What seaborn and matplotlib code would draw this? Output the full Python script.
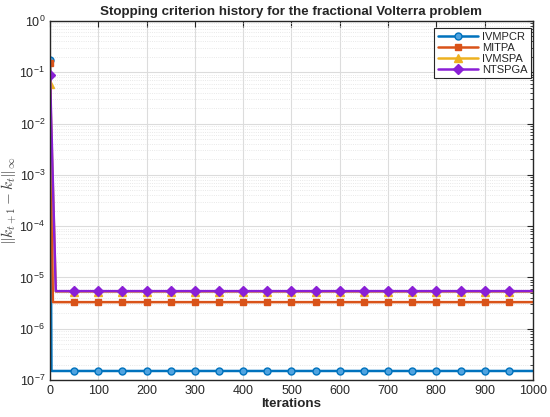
import numpy as np
import pandas as pd
import matplotlib
matplotlib.use("Agg")
import matplotlib.pyplot as plt
import seaborn as sns
from matplotlib.lines import Line2D
from matplotlib.ticker import LogLocator, NullFormatter, MultipleLocator

# ---- data ----
series_names = ["IVMPCR", "MITPA", "IVMSPA", "NTSPGA"]
start_values = [0.17, 0.155, 0.058, 0.09]
drop_iters = [3, 6, 12, 12]
plateau_values = [1.5e-7, 3.3e-6, 5.3e-6, 5.4e-6]
tail_iters = [50, 100, 150, 200, 250, 300, 350, 400, 450, 500,
              550, 600, 650, 700, 750, 800, 850, 900, 950, 1000]

colors = ["#0072BD", "#D95319", "#EDB120", "#8A1FD6"]
face_colors = ["#4FA3E0", "#D95319", "#EDB120", "#8A1FD6"]
markers = ["o", "s", "^", "D"]
msizes = [5, 5, 6, 5]

sns.set_style("white")
plt.rcParams['font.family'] = ['Liberation Sans', 'DejaVu Sans']
plt.rcParams['mathtext.fontset'] = 'cm'

fig = plt.figure(figsize=(5.5, 4.17), dpi=100)
ax = fig.add_axes([0.0909, 0.0887, 0.969 - 0.0909, 0.9496 - 0.0887])

for name, s0, d, p, c, fc, m, ms in zip(series_names, start_values, drop_iters,
                                        plateau_values, colors, face_colors,
                                        markers, msizes):
    xs = [0, d] + tail_iters
    ys = [s0] + [p] * (len(xs) - 1)
    df = pd.DataFrame({"Iterations": xs, "value": ys})
    mark_idx = [0] + list(range(2, len(xs) - 1))
    sns.lineplot(data=df, x="Iterations", y="value", ax=ax, color=c,
                 linewidth=1.8, marker=m, markersize=ms, markevery=mark_idx,
                 markerfacecolor=fc, markeredgecolor=c, markeredgewidth=1.0,
                 sort=False, estimator=None, label=name, legend=False)

ax.set_yscale("log")
ax.set_xlim(0, 1000)
ax.set_ylim(1e-7, 1e0)
ax.xaxis.set_major_locator(MultipleLocator(100))
ax.yaxis.set_major_locator(LogLocator(base=10, numticks=20))
ax.yaxis.set_minor_locator(LogLocator(base=10, subs=np.arange(2, 10), numticks=20))
ax.yaxis.set_minor_formatter(NullFormatter())
ax.xaxis.get_offset_text().set_visible(False)

ax.grid(True, which="major", color="#DCDCDC", linewidth=0.8, linestyle="-")
ax.grid(True, which="minor", axis="y", color="#E2E2E2", linewidth=0.6, linestyle=":")
ax.set_axisbelow(True)

for sp in ax.spines.values():
    sp.set_color("#262626")
    sp.set_linewidth(1.0)
ax.tick_params(axis="both", which="both", direction="in", top=True, right=True,
               colors="#262626", labelsize=9)
ax.tick_params(axis="both", which="major", length=4, width=0.8)
ax.tick_params(axis="y", which="minor", length=2, width=0.6)
ax.tick_params(axis="x", which="minor", bottom=False, top=False)

ax.set_title("Stopping criterion history for the fractional Volterra problem",
             fontsize=9.6, fontweight="bold", pad=4)
ax.set_xlabel("Iterations", fontsize=9.6, fontweight="bold", labelpad=1)
ax.set_ylabel(r"$\|k_{t+1} - k_t\|_{\infty}$", fontsize=11, labelpad=0,
              color="#404040")

handles = [Line2D([0], [0], color=c, lw=1.8, marker=m, markersize=ms,
                  markerfacecolor=fc, markeredgecolor=c)
           for c, fc, m, ms in zip(colors, face_colors, markers, msizes)]
leg = ax.legend(handles, series_names, loc="upper right", fontsize=8,
                frameon=True, fancybox=False, edgecolor="#262626",
                framealpha=1, handlelength=3.6, borderpad=0.3,
                labelspacing=0.1, handletextpad=0.4, borderaxespad=0,
                bbox_to_anchor=(0.996, 0.980))
leg.get_frame().set_linewidth(0.8)

fig.savefig("out.png", dpi=100)
